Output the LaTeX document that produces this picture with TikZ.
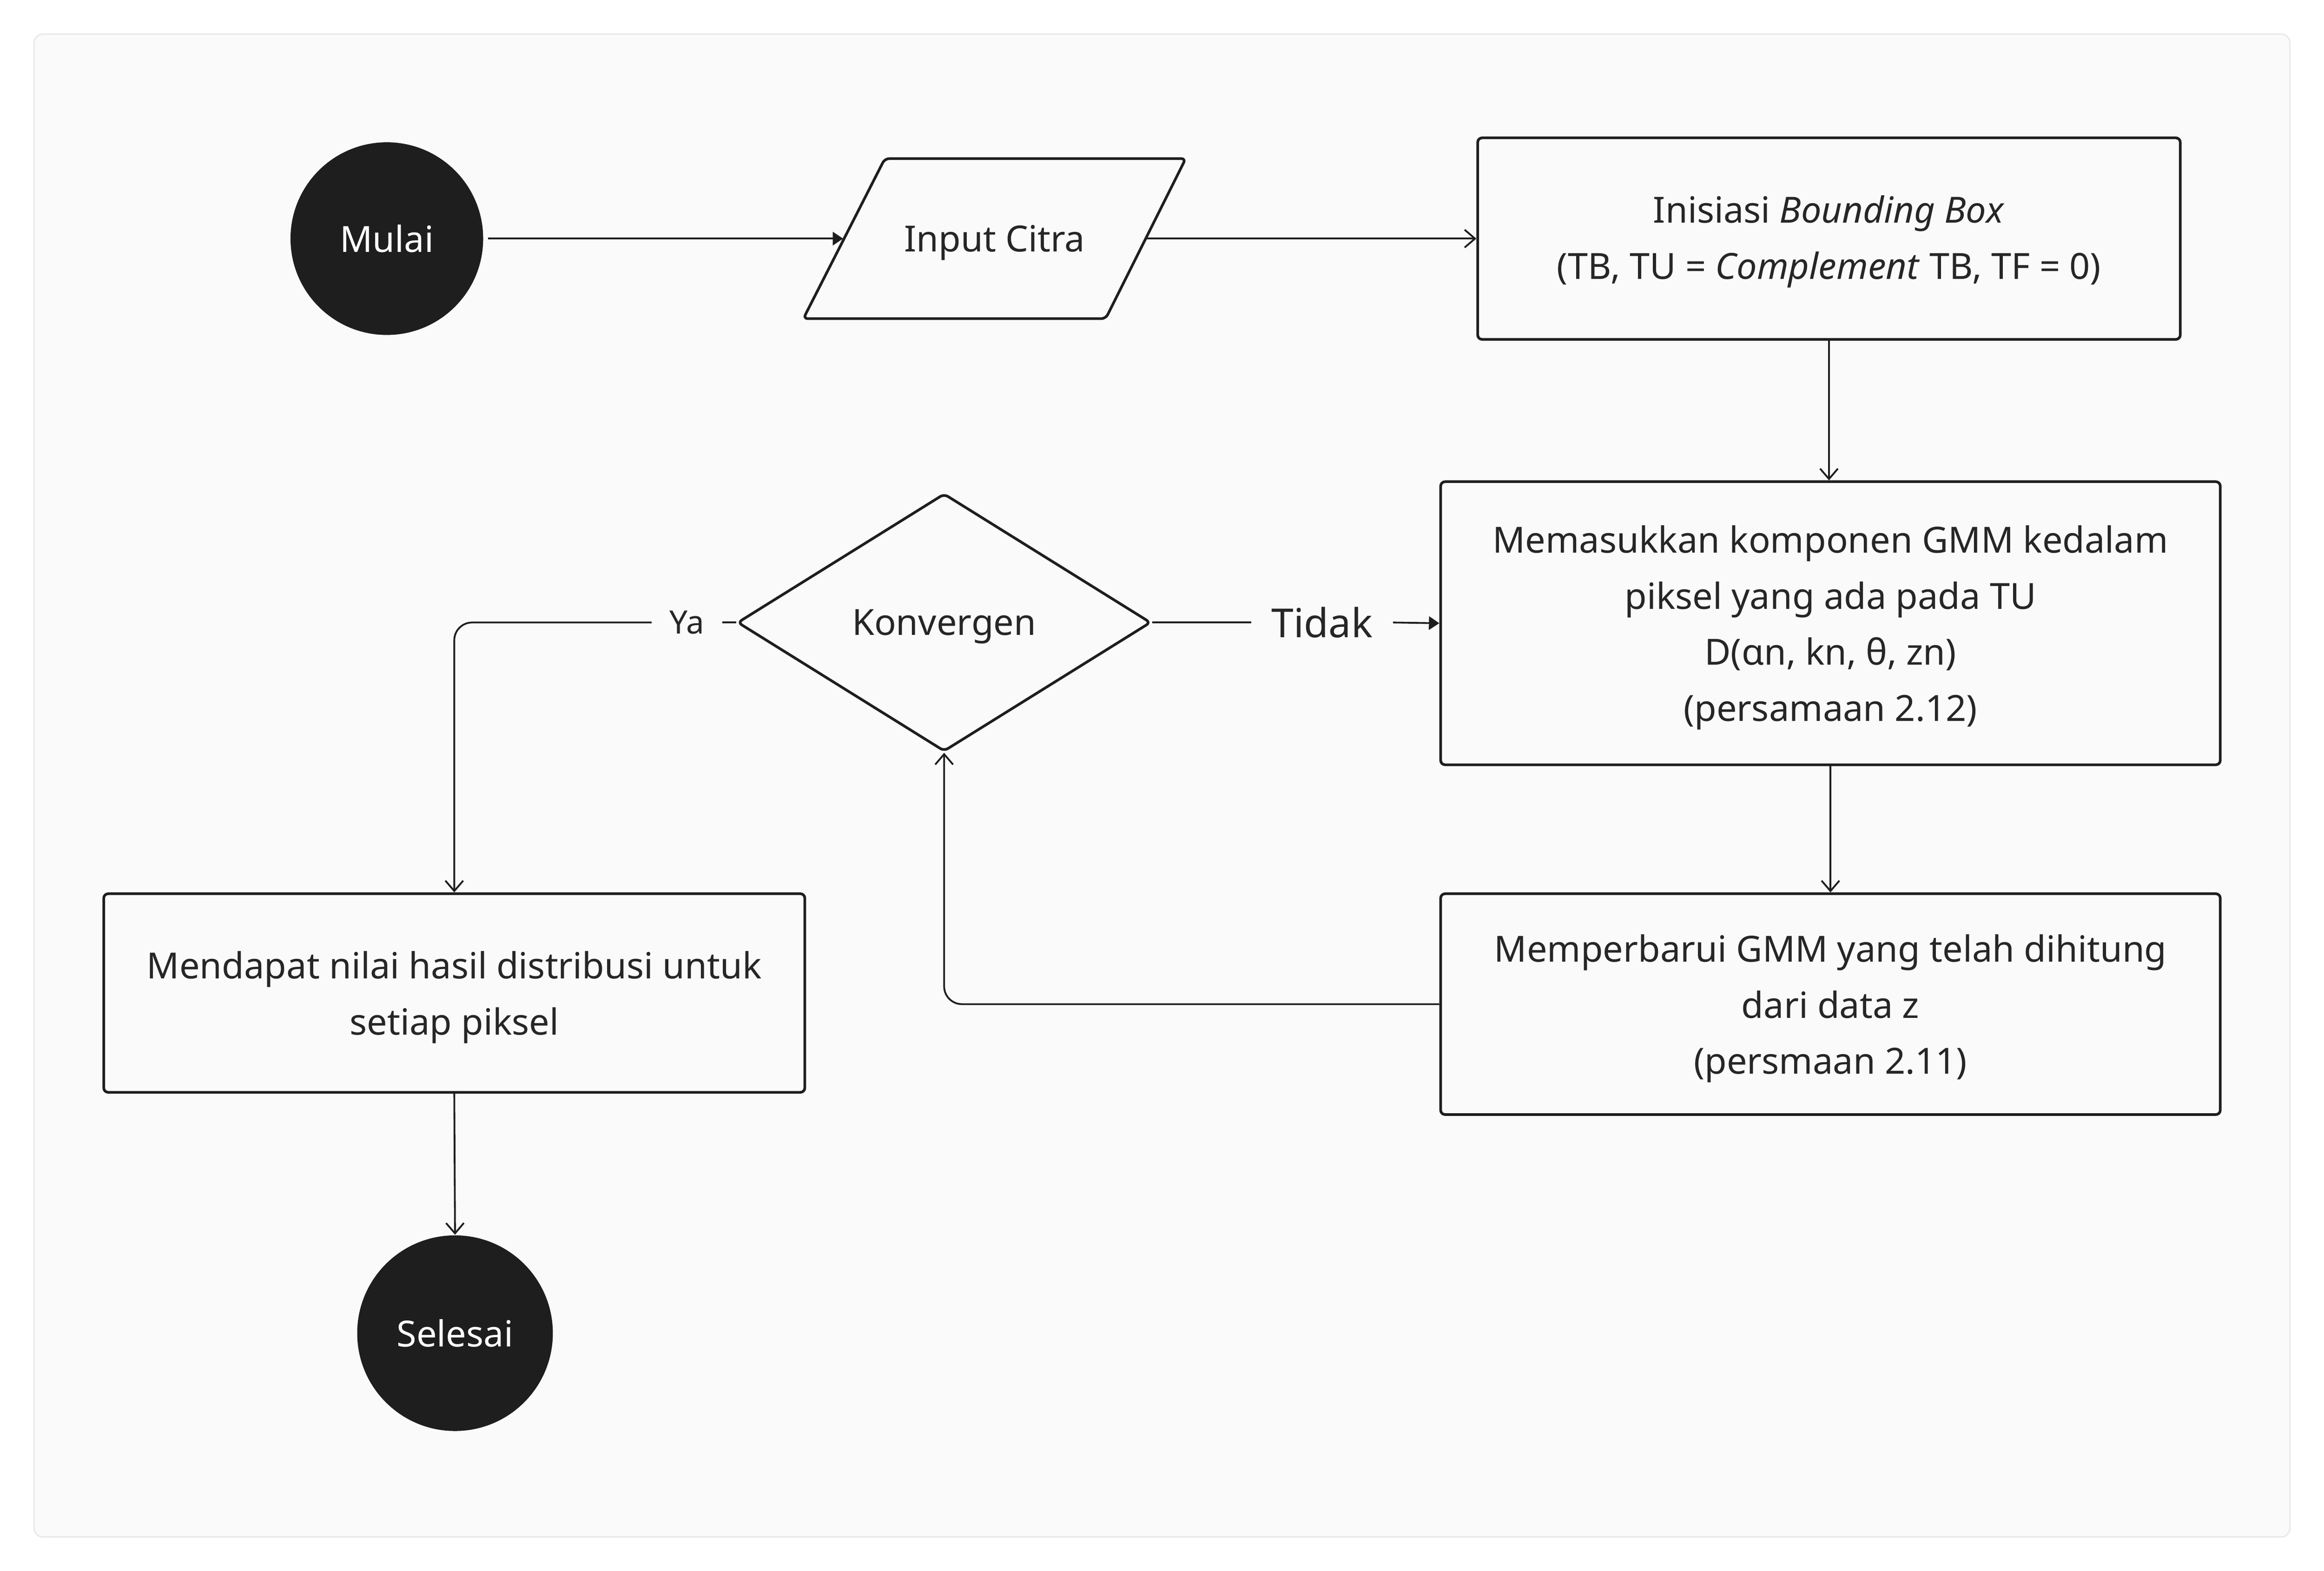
\documentclass[tikz,border=0pt]{standalone}
\usepackage{fontspec}
\setmainfont{Noto Sans}
\usetikzlibrary{shapes.geometric,arrows.meta}
\definecolor{ink}{HTML}{1E1E1E}
\definecolor{txt}{HTML}{262626}
\definecolor{panel}{HTML}{FAFAFA}
\definecolor{panelline}{HTML}{EAEAEA}
\newcommand\mainfnt{\fontsize{12.15}{18.9}\selectfont}
\newcommand\firstln[1]{\raisebox{0pt}[\dimexpr\height+3pt\relax]{#1}}
\begin{document}
\begin{tikzpicture}[x=0.5pt,y=-0.5pt,
  every node/.style={text=txt, font=\mainfnt},
  proc/.style={draw=ink, line width=0.9pt, rounded corners=1.5pt, align=center, inner sep=0pt},
  term/.style={circle, fill=ink, text=white, inner sep=0pt},
  conn/.style={draw=ink, line width=0.6pt, -{Straight Barb[length=3.5pt,width=6pt]}},
  connf/.style={draw=ink, line width=0.6pt, -{Triangle[length=3.5pt,width=4.5pt]}},
  plain/.style={draw=ink, line width=0.6pt},
  lbl/.style={inner sep=0pt, minimum height=14pt}
]
\fill[white] (0,0) rectangle (1568,1059.9);
\useasboundingbox (0,0) rectangle (1568,1059.9);
\draw[fill=panel, draw=panelline, line width=0.5pt, rounded corners=3pt] (23,23) rectangle (1545,1037);

% nodes
\node[term, minimum size=65pt] (mulai) at (261,161) {Mulai};
\draw[draw=ink, line width=0.9pt, rounded corners=1.5pt] (542,215) -- (597,107) -- (800,107) -- (746,215) -- cycle;
\node[minimum width=101.75pt, minimum height=54pt, inner sep=0pt, text depth=0pt] (input) at (671,161) {Input Citra};
\node[proc, minimum width=237pt, minimum height=68pt] (inisiasi) at (1234,161)
  {\raisebox{0pt}[\dimexpr\height+2pt\relax]{Inisiasi \textit{Bounding Box}}\\(TB, TU = \textit{Complement} TB, TF = 0)};
\node[proc, minimum width=263pt, minimum height=95.5pt] (masuk) at (1235,420.5)
  {\firstln{Memasukkan komponen GMM kedalam}\\piksel yang ada pada TU\\D(αn, kn, θ, zn)\\(persamaan 2.12)};
\node[proc, minimum width=263pt, minimum height=74.5pt] (baru) at (1235,677.5)
  {\firstln{Memperbarui GMM yang telah dihitung}\\dari data z\\(persmaan 2.11)};
\node[diamond, draw=ink, line width=0.9pt, minimum width=139.5pt, minimum height=87pt, inner sep=0pt, rounded corners=1.5pt, text depth=0pt] (konv) at (637,420) {Konvergen};
\node[proc, minimum width=236.5pt, minimum height=67pt] (dapat) at (306.5,670)
  {\firstln{Mendapat nilai hasil distribusi untuk}\\setiap piksel};
\node[term, minimum size=66pt] (selesai) at (307,899.5) {Selesai};
\node[lbl, minimum width=47.5pt, font=\fontsize{13.5}{16}\selectfont] (tidak) at (892,420) {Tidak};
\node[lbl, minimum width=23.5pt, font=\fontsize{10.85}{13}\selectfont] (ya) at (463.5,420) {Ya};

% connectors
\draw[connf, shorten <=1.5pt] (mulai) -- (input.west);
\draw[conn] (input.east) -- (inisiasi.west);
\draw[conn] (inisiasi.south) -- (inisiasi.south |- masuk.north);
\draw[conn] (masuk.south) -- (baru.north);
\draw[conn, rounded corners=6pt] (baru.west) -| (konv.south);
\draw[plain] (konv.east) -- (tidak.west);
\draw[connf] (tidak.east) -- (masuk.west);
\draw[plain] (konv.west) -- (ya.east);
\draw[conn, rounded corners=6pt] (ya.west) -| (dapat.north);
\draw[conn] (dapat.south) -- (selesai.north);
\end{tikzpicture}
\end{document}
